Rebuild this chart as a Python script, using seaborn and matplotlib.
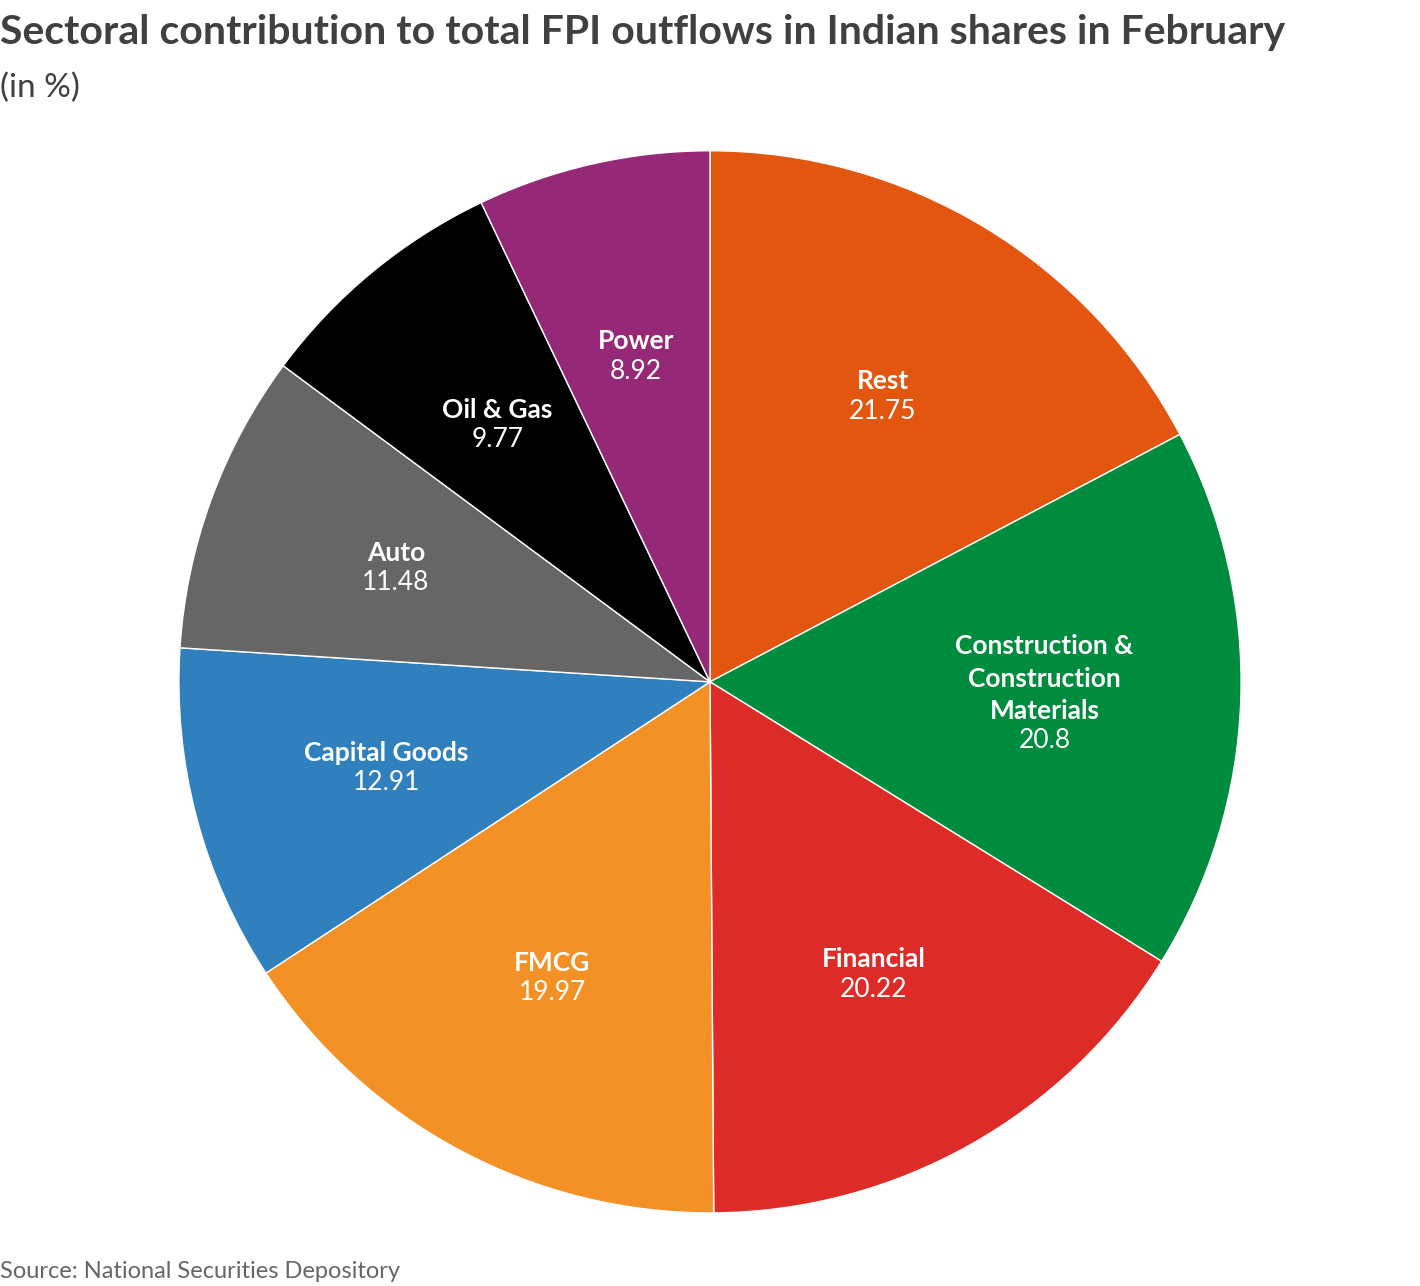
import seaborn as sns
import matplotlib.pyplot as plt
import numpy as np

sectors = ["Rest", "Construction &\nConstruction\nMaterials", "Financial", "FMCG",
           "Capital Goods", "Auto", "Oil & Gas", "Power"]
shares = [21.75, 20.8, 20.22, 19.97, 12.91, 11.48, 9.77, 8.92]
share_labels = ["21.75", "20.8", "20.22", "19.97", "12.91", "11.48", "9.77", "8.92"]
colors = ["#e3560f", "#008c3e", "#dd2c27", "#f39026", "#3180be", "#666666", "#000000", "#952877"]

sns.set_theme(style="white")
plt.rcParams['font.family'] = ['Lato', 'DejaVu Sans']

fig = plt.figure(figsize=(14.2, 12.86), dpi=100)
ax = fig.add_axes([0.126, 0.0568, 0.748, 0.826])

wedges, _ = ax.pie(shares, colors=colors, startangle=90, counterclock=False, radius=1,
                   wedgeprops=dict(edgecolor='white', linewidth=1))
ax.set_xlim(-1, 1)
ax.set_ylim(-1, 1)
ax.set_aspect('equal')
ax.axis('off')

# label blocks centred at ~0.63 of the radius along each wedge's mid angle
line_h = 0.06
for w, name, val in zip(wedges, sectors, share_labels):
    mid = np.deg2rad((w.theta1 + w.theta2) / 2)
    r = 0.63
    x, y = r * np.cos(mid), r * np.sin(mid)
    nlines = name.count("\n") + 1
    y0 = y - line_h * (nlines - 1) / 2
    ax.text(x, y0 + 0.004, name, ha='center', va='bottom', color='white',
            fontsize=19, fontweight='bold', linespacing=1.42)
    ax.text(x, y0 - 0.006, val, ha='center', va='top', color='white', fontsize=19)

fig.text(0.0, 0.975, "Sectoral contribution to total FPI outflows in Indian shares in February",
         ha='left', va='center', fontsize=29.5, fontweight='bold', color='#404040')
fig.text(0.0, 0.932, "(in %)", ha='left', va='center', fontsize=24, color='#404040')
fig.text(0.0, 0.011, "Source: National Securities Depository", ha='left', va='center',
         fontsize=17, color='#666666')

fig.savefig("out.png", dpi=100)
